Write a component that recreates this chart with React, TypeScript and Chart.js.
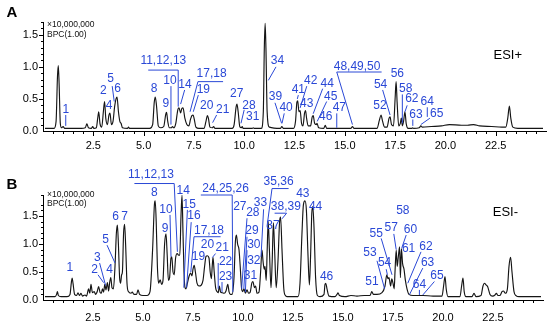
import { useEffect, useRef } from 'react';
import { Chart, registerables } from 'chart.js';

Chart.register(...registerables);

const FONT = '"Liberation Sans", Arial, Helvetica, sans-serif';
const BLUE = '#2a48d6';

const xTickLabels = ['2.5', '5.0', '7.5', '10.0', '12.5', '15.0', '17.5', '20.0', '22.5'];
const yTickLabels = ['0.0', '0.5', '1.0', '1.5'];

// ESI+ base peak chromatogram: [retention time (min), intensity (x10,000,000)]
const traceA: [number, number][] = [
  [0.1, 0.04], [0.55, 0.04], [0.65, 0.15], [0.72, 0.85], [0.76, 1.02], [0.8, 0.75], [0.86, 0.12], [0.92, 0.05],
  [1.0, 0.07], [1.08, 0.04], [1.2, 0.04], [1.9, 0.04], [2.1, 0.05], [2.18, 0.11], [2.26, 0.05], [2.4, 0.04],
  [2.47, 0.07], [2.53, 0.04], [2.65, 0.05], [2.72, 0.2], [2.77, 0.3], [2.83, 0.12], [2.92, 0.06], [3.0, 0.3],
  [3.06, 0.46], [3.12, 0.2], [3.2, 0.1], [3.28, 0.25], [3.33, 0.28], [3.4, 0.1], [3.48, 0.15], [3.56, 0.38],
  [3.63, 0.5], [3.68, 0.53], [3.75, 0.3], [3.82, 0.15], [3.88, 0.12], [3.95, 0.05], [4.2, 0.04], [4.25, 0.06],
  [4.3, 0.04], [5.3, 0.04], [5.45, 0.1], [5.53, 0.45], [5.58, 0.53], [5.64, 0.4], [5.73, 0.08], [5.85, 0.05],
  [6.0, 0.07], [6.1, 0.26], [6.14, 0.29], [6.2, 0.15], [6.28, 0.05], [6.38, 0.05], [6.43, 0.07], [6.5, 0.05],
  [6.6, 0.12], [6.7, 0.33], [6.76, 0.36], [6.84, 0.28], [6.9, 0.35], [6.96, 0.36], [7.05, 0.2], [7.15, 0.1],
  [7.25, 0.08], [7.33, 0.18], [7.4, 0.24], [7.46, 0.25], [7.52, 0.18], [7.6, 0.06], [7.75, 0.04], [8.0, 0.04],
  [8.1, 0.15], [8.17, 0.24], [8.22, 0.2], [8.3, 0.06], [8.42, 0.05], [8.48, 0.07], [8.55, 0.04], [9.4, 0.04],
  [9.5, 0.1], [9.6, 0.38], [9.64, 0.42], [9.7, 0.3], [9.78, 0.07], [9.85, 0.05], [9.9, 0.07], [9.95, 0.04],
  [10.4, 0.04], [10.45, 0.05], [10.5, 0.04], [10.85, 0.04], [10.95, 0.3], [11.0, 1.3], [11.04, 1.68], [11.08, 1.3],
  [11.14, 0.3], [11.25, 0.06], [11.8, 0.04], [11.87, 0.07], [11.95, 0.04], [12.45, 0.04], [12.55, 0.15], [12.62, 0.45],
  [12.66, 0.47], [12.72, 0.3], [12.78, 0.32], [12.85, 0.12], [12.92, 0.08], [13.0, 0.28], [13.05, 0.32], [13.1, 0.2],
  [13.18, 0.08], [13.3, 0.08], [13.38, 0.22], [13.43, 0.24], [13.5, 0.12], [13.58, 0.1], [13.62, 0.12], [13.7, 0.05],
  [13.95, 0.04], [14.03, 0.09], [14.1, 0.04], [14.6, 0.04], [15.3, 0.04], [15.38, 0.07], [15.46, 0.04], [16.6, 0.04],
  [16.72, 0.17], [16.8, 0.25], [16.88, 0.15], [16.98, 0.06], [17.1, 0.06], [17.2, 0.2], [17.25, 0.22], [17.32, 0.1],
  [17.42, 0.08], [17.5, 0.5], [17.55, 0.77], [17.6, 0.45], [17.68, 0.08], [17.76, 0.12], [17.81, 0.2], [17.86, 0.08],
  [17.92, 0.15], [17.99, 0.3], [18.05, 0.12], [18.15, 0.04], [18.33, 0.04], [18.37, 0.05], [18.42, 0.04], [18.7, 0.05],
  [18.78, 0.08], [18.85, 0.06], [19.3, 0.07], [19.8, 0.08], [20.2, 0.1], [20.8, 0.09], [21.1, 0.09], [21.4, 0.1],
  [21.7, 0.08], [22.3, 0.07], [22.8, 0.06], [23.0, 0.06], [23.1, 0.2], [23.18, 0.39], [23.25, 0.2], [23.35, 0.06],
  [23.6, 0.04], [24.85, 0.04],
];

// ESI- base peak chromatogram
const traceB: [number, number][] = [
  [0.1, 0.06], [0.6, 0.06], [0.68, 0.1], [0.72, 0.15], [0.77, 0.08], [0.9, 0.06], [1.2, 0.06], [1.35, 0.1],
  [1.42, 0.32], [1.46, 0.39], [1.5, 0.3], [1.58, 0.1], [1.68, 0.08], [1.75, 0.13], [1.82, 0.08], [1.9, 0.12],
  [1.97, 0.07], [2.1, 0.09], [2.18, 0.07], [2.28, 0.2], [2.34, 0.12], [2.4, 0.28], [2.47, 0.13], [2.56, 0.15],
  [2.63, 0.1], [2.72, 0.16], [2.78, 0.24], [2.85, 0.14], [2.92, 0.12], [2.97, 0.2], [3.03, 0.14], [3.09, 0.28],
  [3.15, 0.18], [3.22, 0.31], [3.28, 0.16], [3.33, 0.3], [3.39, 0.4], [3.45, 0.22], [3.52, 0.2], [3.6, 0.6],
  [3.67, 1.2], [3.72, 1.34], [3.77, 1.0], [3.83, 0.4], [3.88, 0.3], [3.93, 0.45], [3.97, 0.5], [4.03, 1.2],
  [4.08, 1.35], [4.13, 1.0], [4.2, 0.3], [4.27, 0.15], [4.4, 0.12], [4.46, 0.14], [4.55, 0.1], [4.68, 0.1],
  [4.75, 0.18], [4.83, 0.1], [5.0, 0.08], [5.2, 0.08], [5.35, 0.15], [5.48, 0.9], [5.57, 1.7], [5.61, 1.77],
  [5.66, 1.4], [5.72, 0.6], [5.78, 0.3], [5.86, 0.36], [5.93, 0.28], [6.0, 0.35], [6.08, 1.0], [6.15, 1.18],
  [6.21, 0.8], [6.27, 0.35], [6.33, 0.4], [6.4, 0.75], [6.44, 0.77], [6.5, 0.5], [6.56, 0.45], [6.63, 0.75],
  [6.71, 0.83], [6.78, 0.8], [6.84, 0.8], [6.9, 1.5], [6.95, 1.87], [7.0, 1.2], [7.05, 0.5], [7.1, 0.22],
  [7.15, 0.2], [7.22, 0.3], [7.3, 0.42], [7.38, 0.48], [7.45, 0.43], [7.5, 0.55], [7.56, 0.62], [7.62, 0.5],
  [7.7, 0.3], [7.8, 0.25], [7.9, 0.26], [8.0, 0.35], [8.08, 0.6], [8.15, 0.78], [8.22, 0.79], [8.3, 0.75],
  [8.36, 0.5], [8.42, 0.38], [8.46, 0.6], [8.5, 0.76], [8.56, 0.5], [8.63, 0.22], [8.7, 0.15], [8.76, 0.13],
  [8.82, 0.25], [8.88, 0.14], [8.96, 0.13], [9.06, 0.12], [9.15, 0.16], [9.24, 0.28], [9.3, 0.15], [9.37, 0.1],
  [9.45, 0.1], [9.55, 0.4], [9.62, 1.05], [9.67, 1.16], [9.73, 1.0], [9.8, 0.9], [9.86, 0.6], [9.93, 0.2],
  [9.98, 0.15], [10.05, 0.2], [10.12, 0.12], [10.2, 0.18], [10.28, 0.12], [10.36, 0.14], [10.44, 0.3], [10.5, 0.33],
  [10.57, 0.22], [10.63, 0.25], [10.7, 0.12], [10.8, 0.14], [10.88, 0.5], [10.95, 0.89], [11.0, 0.7], [11.06, 0.55],
  [11.1, 0.6], [11.16, 0.35], [11.21, 0.9], [11.26, 1.4], [11.32, 0.9], [11.4, 0.22], [11.46, 0.7], [11.52, 1.38],
  [11.58, 0.9], [11.66, 0.22], [11.75, 0.7], [11.83, 1.4], [11.88, 1.48], [11.95, 0.9], [12.04, 0.2], [12.12, 0.08],
  [12.2, 0.06], [12.75, 0.06], [12.85, 0.3], [12.95, 1.2], [13.02, 1.7], [13.1, 1.77], [13.17, 1.6], [13.25, 0.8],
  [13.32, 0.27], [13.38, 0.8], [13.44, 1.55], [13.49, 1.67], [13.55, 1.3], [13.63, 0.4], [13.72, 0.08], [13.85, 0.06],
  [14.05, 0.1], [14.1, 0.28], [14.14, 0.3], [14.2, 0.2], [14.3, 0.07], [14.6, 0.06], [14.7, 0.1], [14.75, 0.13],
  [14.82, 0.08], [15.1, 0.06], [15.4, 0.08], [15.7, 0.07], [16.06, 0.08], [16.35, 0.08], [16.44, 0.15], [16.52, 0.1],
  [16.7, 0.1], [16.95, 0.13], [17.1, 0.25], [17.19, 0.45], [17.25, 0.38], [17.3, 0.4], [17.38, 0.25], [17.44, 0.38],
  [17.5, 0.3], [17.56, 0.2], [17.6, 0.5], [17.66, 0.89], [17.71, 0.6], [17.76, 0.75], [17.83, 0.95], [17.87, 0.4],
  [17.92, 0.92], [17.98, 0.65], [18.05, 0.55], [18.12, 0.35], [18.2, 0.2], [18.3, 0.1], [18.5, 0.08], [19.0, 0.08],
  [19.5, 0.07], [19.95, 0.07], [20.03, 0.25], [20.1, 0.42], [20.16, 0.2], [20.25, 0.06], [20.85, 0.06], [20.93, 0.25],
  [21.0, 0.39], [21.06, 0.15], [21.15, 0.06], [21.45, 0.06], [21.55, 0.12], [21.65, 0.06], [21.9, 0.08], [22.0, 0.25],
  [22.07, 0.3], [22.15, 0.27], [22.23, 0.24], [22.35, 0.1], [22.48, 0.07], [22.6, 0.09], [22.67, 0.12], [22.75, 0.08],
  [22.85, 0.08], [22.95, 0.15], [23.02, 0.16], [23.12, 0.12], [23.22, 0.2], [23.3, 0.6], [23.38, 0.76], [23.45, 0.5],
  [23.55, 0.15], [23.65, 0.08], [23.8, 0.06], [24.9, 0.06],
];

type PeakLabel = { text: string; at: [number, number]; path?: [number, number][] };

// peak labels, placed in data units (time, intensity); path = leader line
const peakLabelsA: PeakLabel[] = [
  { text: '1', at: [1.13, 0.34], path: [[1.13, 0.25], [1.13, 0.08]] },
  { text: '2', at: [3.0, 0.63] },
  { text: '4', at: [3.28, 0.39] },
  { text: '5', at: [3.36, 0.81], path: [[3.44, 0.7], [3.54, 0.46]] },
  { text: '6', at: [3.71, 0.66] },
  { text: '8', at: [5.52, 0.66] },
  { text: '9', at: [6.1, 0.42] },
  { text: '10', at: [6.31, 0.78], path: [[6.36, 0.7], [6.36, 0.1]] },
  { text: '11,12,13', at: [5.98, 1.09], path: [[5.23, 0.95], [6.72, 0.95], [6.72, 0.38]] },
  { text: '14', at: [7.06, 0.73], path: [[7.04, 0.64], [6.84, 0.42]] },
  { text: '17,18', at: [8.38, 0.9], path: [[8.95, 0.77], [7.7, 0.77], [7.31, 0.3]] },
  { text: '19', at: [7.97, 0.64], path: [[7.72, 0.56], [7.47, 0.3]] },
  { text: '20', at: [8.14, 0.39] },
  { text: '21', at: [8.93, 0.33], path: [[8.63, 0.25], [8.43, 0.13]] },
  { text: '27', at: [9.63, 0.58] },
  { text: '28', at: [10.24, 0.39], path: [[10.0, 0.33], [9.84, 0.12]] },
  { text: '31', at: [10.42, 0.22] },
  { text: '34', at: [11.65, 1.1], path: [[11.58, 1.0], [11.2, 0.79]] },
  { text: '39', at: [11.55, 0.53], path: [[11.53, 0.44], [11.86, 0.12]] },
  { text: '40', at: [12.08, 0.37], path: [[11.99, 0.275], [11.88, 0.12]] },
  { text: '41', at: [12.69, 0.64], path: [[12.69, 0.56], [12.64, 0.5]] },
  { text: '42', at: [13.31, 0.79], path: [[13.11, 0.7], [12.78, 0.36]] },
  { text: '43', at: [13.11, 0.43] },
  { text: '44', at: [14.13, 0.74], path: [[13.9, 0.66], [13.43, 0.27]] },
  { text: '45', at: [14.3, 0.53], path: [[14.1, 0.46], [13.63, 0.15]] },
  { text: '46', at: [14.05, 0.23] },
  { text: '47', at: [14.73, 0.37], path: [[14.6, 0.275], [14.6, 0.05]] },
  { text: '48,49,50', at: [15.61, 1.01], path: [[16.83, 0.92], [14.6, 0.92], [15.38, 0.1]] },
  { text: '52', at: [16.75, 0.4] },
  { text: '54', at: [16.78, 0.73], path: [[16.88, 0.64], [17.25, 0.25]] },
  { text: '56', at: [17.61, 0.89] },
  { text: '58', at: [18.03, 0.66], path: [[17.86, 0.57], [17.86, 0.12]] },
  { text: '62', at: [18.33, 0.5], path: [[18.1, 0.4], [17.99, 0.3]] },
  { text: '63', at: [18.54, 0.26], path: [[18.38, 0.18], [18.38, 0.08]] },
  { text: '64', at: [19.1, 0.46], path: [[19.1, 0.37], [19.1, 0.22]] },
  { text: '65', at: [19.57, 0.275], path: [[19.23, 0.2], [18.78, 0.1]] },
];

const peakLabelsB: PeakLabel[] = [
  { text: '1', at: [1.34, 0.58] },
  { text: '2', at: [2.58, 0.54], path: [[2.75, 0.45], [3.03, 0.31]] },
  { text: '3', at: [2.72, 0.76], path: [[2.83, 0.66], [3.13, 0.26]] },
  { text: '4', at: [3.33, 0.54] },
  { text: '5', at: [3.13, 1.07], path: [[3.2, 0.98], [3.6, 0.66]] },
  { text: '6', at: [3.63, 1.48] },
  { text: '7', at: [4.08, 1.48] },
  { text: '8', at: [5.57, 1.91] },
  { text: '9', at: [6.1, 1.28] },
  { text: '10', at: [6.15, 1.62], path: [[6.35, 1.52], [6.4, 0.77]] },
  { text: '11,12,13', at: [5.4, 2.23], path: [[4.57, 2.08], [6.56, 2.08], [6.72, 0.86]] },
  { text: '14', at: [7.01, 1.96] },
  { text: '15', at: [7.31, 1.71], path: [[7.22, 1.61], [7.04, 0.22]] },
  { text: '16', at: [7.55, 1.51], path: [[7.41, 1.39], [7.18, 0.22]] },
  { text: '17,18', at: [8.3, 1.24], path: [[8.88, 1.13], [7.55, 1.13], [7.39, 0.5]] },
  { text: '19', at: [7.77, 0.77] },
  { text: '20', at: [8.22, 0.99] },
  { text: '21', at: [8.96, 0.94], path: [[8.63, 0.83], [8.47, 0.76]] },
  { text: '22', at: [9.13, 0.68], path: [[8.76, 0.66], [8.76, 0.2]] },
  { text: '23', at: [9.13, 0.42], path: [[8.95, 0.32], [8.95, 0.14]] },
  { text: '24,25,26', at: [9.13, 1.98], path: [[7.89, 1.875], [9.46, 1.875], [9.49, 0.14]] },
  { text: '27', at: [9.84, 1.67] },
  { text: '28', at: [10.49, 1.56], path: [[10.2, 1.46], [9.93, 0.2]] },
  { text: '29', at: [10.45, 1.23], path: [[10.2, 1.13], [10.04, 0.2]] },
  { text: '30', at: [10.54, 0.98], path: [[10.2, 0.89], [10.12, 0.14]] },
  { text: '32', at: [10.54, 0.71] },
  { text: '31', at: [10.37, 0.43] },
  { text: '33', at: [10.87, 1.73], path: [[11.03, 1.62], [10.9, 0.77]] },
  { text: '35,36', at: [11.78, 2.11], path: [[12.28, 1.99], [11.45, 1.99], [11.2, 1.31]] },
  { text: '37', at: [11.5, 1.32] },
  { text: '38,39', at: [12.14, 1.67], path: [[11.58, 1.55], [12.18, 1.55], [11.95, 1.45]] },
  { text: '43', at: [12.99, 1.89] },
  { text: '44', at: [13.63, 1.67] },
  { text: '46', at: [14.18, 0.41] },
  { text: '51', at: [16.45, 0.33] },
  { text: '53', at: [16.35, 0.84], path: [[16.7, 0.7], [17.08, 0.2]] },
  { text: '54', at: [17.08, 0.66], path: [[17.16, 0.55], [17.22, 0.45]] },
  { text: '55', at: [16.66, 1.19], path: [[16.91, 1.1], [17.45, 0.45]] },
  { text: '57', at: [17.41, 1.29], path: [[17.54, 1.18], [17.66, 0.9]] },
  { text: '58', at: [17.99, 1.59] },
  { text: '60', at: [18.37, 1.26], path: [[18.16, 1.16], [17.94, 0.93]] },
  { text: '61', at: [18.28, 0.92] },
  { text: '62', at: [19.15, 0.96], path: [[18.9, 0.86], [18.24, 0.3]] },
  { text: '63', at: [19.23, 0.66], path: [[18.99, 0.57], [18.33, 0.1]] },
  { text: '64', at: [18.82, 0.27], path: [[18.82, 0.18], [18.82, 0.09]] },
  { text: '65', at: [19.7, 0.43], path: [[19.57, 0.33], [18.99, 0.09]] },
];

type PanelCfg = {
  top: number;
  height: number;
  padTop: number;
  xAxisHeight: number;
  xLabelPad: number;
  yMax: number;
  trace: [number, number][];
  labels: PeakLabel[];
  letter: string;
  letterY: number;
  hdrY: [number, number];
  mode: string;
  modeAt: [number, number];
};

const panels: PanelCfg[] = [
  {
    top: 0, height: 160, padTop: 22, xAxisHeight: 29, xLabelPad: 4, yMax: 1.7,
    trace: traceA, labels: peakLabelsA, letter: 'A', letterY: 13, hdrY: [25, 35],
    mode: 'ESI+', modeAt: [23.1, 1.18],
  },
  {
    top: 160, height: 171, padTop: 35, xAxisHeight: 31, xLabelPad: 7, yMax: 1.875,
    trace: traceB, labels: peakLabelsB, letter: 'B', letterY: 25, hdrY: [35, 44],
    mode: 'ESI-', modeAt: [23.12, 1.56],
  },
];

function makeOverlay(cfg: PanelCfg) {
  return {
    id: 'overlay' + cfg.letter,
    afterDraw(chart: any) {
      const ctx: CanvasRenderingContext2D = chart.ctx;
      const xs = chart.scales.x;
      const ys = chart.scales.y;
      const area = chart.chartArea;
      ctx.save();
      // tick marks
      ctx.strokeStyle = '#000';
      ctx.lineWidth = 1;
      ctx.beginPath();
      xs.ticks.forEach((t: any) => {
        const v = t.value;
        if (v <= 0 || v >= 24.95) return;
        const px = Math.round(xs.getPixelForValue(v)) + 0.5;
        const len = xTickLabels.includes(v.toFixed(1)) ? 5 : 3;
        ctx.moveTo(px, area.bottom);
        ctx.lineTo(px, area.bottom + len);
      });
      ys.ticks.forEach((t: any) => {
        const v = t.value;
        if (v <= 0) return;
        const py = Math.round(ys.getPixelForValue(v)) + 0.5;
        const len = yTickLabels.includes(v.toFixed(1)) ? 4 : 2;
        ctx.moveTo(area.left, py);
        ctx.lineTo(area.left - len, py);
      });
      ctx.stroke();

      // peak labels
      ctx.strokeStyle = BLUE;
      ctx.fillStyle = BLUE;
      ctx.lineWidth = 1;
      ctx.font = '12px ' + FONT;
      ctx.textAlign = 'center';
      ctx.textBaseline = 'middle';
      cfg.labels.forEach((l) => {
        if (l.path && l.path.length > 1) {
          ctx.beginPath();
          l.path.forEach((p, i) => {
            const px = xs.getPixelForValue(p[0]);
            const py = ys.getPixelForValue(p[1]);
            if (i === 0) ctx.moveTo(px, py);
            else ctx.lineTo(px, py);
          });
          ctx.stroke();
        }
        ctx.fillText(l.text, xs.getPixelForValue(l.at[0]), ys.getPixelForValue(l.at[1]));
      });

      // mode label
      ctx.fillStyle = '#000';
      ctx.font = '13px ' + FONT;
      ctx.fillText(cfg.mode, xs.getPixelForValue(cfg.modeAt[0]), ys.getPixelForValue(cfg.modeAt[1]));

      // header text
      ctx.textAlign = 'left';
      ctx.font = '8.5px ' + FONT;
      ctx.fillStyle = '#111';
      ctx.fillText('\u00d710,000,000', area.left + 4, cfg.hdrY[0]);
      ctx.fillText('BPC(1.00)', area.left + 4, cfg.hdrY[1]);

      // panel letter
      ctx.font = 'bold 15px ' + FONT;
      ctx.fillStyle = '#000';
      ctx.textAlign = 'center';
      ctx.fillText(cfg.letter, 12, cfg.letterY);
      ctx.restore();
    },
  };
}

function Panel({ cfg }: { cfg: PanelCfg }) {
  const ref = useRef<HTMLCanvasElement>(null);
  useEffect(() => {
    const canvas = ref.current;
    if (!canvas) return;
    const chart = new Chart(canvas, {
      type: 'line',
      data: {
        datasets: [
          {
            data: cfg.trace.map(([x, y]) => ({ x, y })),
            borderColor: '#151515',
            borderWidth: 1.15,
            pointRadius: 0,
            fill: false,
            cubicInterpolationMode: 'monotone',
          },
        ],
      },
      options: {
        animation: false,
        responsive: false,
        events: [],
        layout: { padding: { top: cfg.padTop, right: 4, left: 0, bottom: 0 } },
        plugins: { legend: { display: false }, tooltip: { enabled: false } },
        scales: {
          x: {
            type: 'linear',
            min: 0,
            max: 25,
            grid: { display: false, drawTicks: true, tickLength: 4 },
            border: { display: true, color: '#000', width: 1 },
            ticks: {
              stepSize: 0.5,
              autoSkip: false,
              maxRotation: 0,
              padding: cfg.xLabelPad,
              color: '#000',
              font: { family: FONT, size: 11 },
              callback: (v: any) => {
                const s = Number(v).toFixed(1);
                return xTickLabels.includes(s) ? s : '';
              },
            },
            afterFit: (s: any) => {
              s.height = cfg.xAxisHeight;
            },
          },
          y: {
            type: 'linear',
            min: 0,
            max: cfg.yMax,
            grid: { display: false, drawTicks: true, tickLength: 3 },
            border: { display: true, color: '#000', width: 1 },
            ticks: {
              stepSize: 0.1,
              autoSkip: false,
              padding: 2,
              color: '#000',
              font: { family: FONT, size: 11 },
              callback: (v: any) => {
                const s = Number(v).toFixed(1);
                return yTickLabels.includes(s) ? s : '';
              },
            },
            afterFit: (s: any) => {
              s.width = 43;
            },
          },
        },
      },
      plugins: [makeOverlay(cfg)],
    } as any);
    return () => chart.destroy();
  }, [cfg]);
  return (
    <canvas
      ref={ref}
      width={550}
      height={cfg.height}
      style={{ position: 'absolute', left: 0, top: cfg.top, width: 550, height: cfg.height }}
    />
  );
}

export default function App() {
  return (
    <div style={{ position: 'absolute', left: 0, top: 0, width: 550, height: 331, background: '#fff' }}>
      {panels.map((p) => (
        <Panel key={p.letter} cfg={p} />
      ))}
    </div>
  );
}
